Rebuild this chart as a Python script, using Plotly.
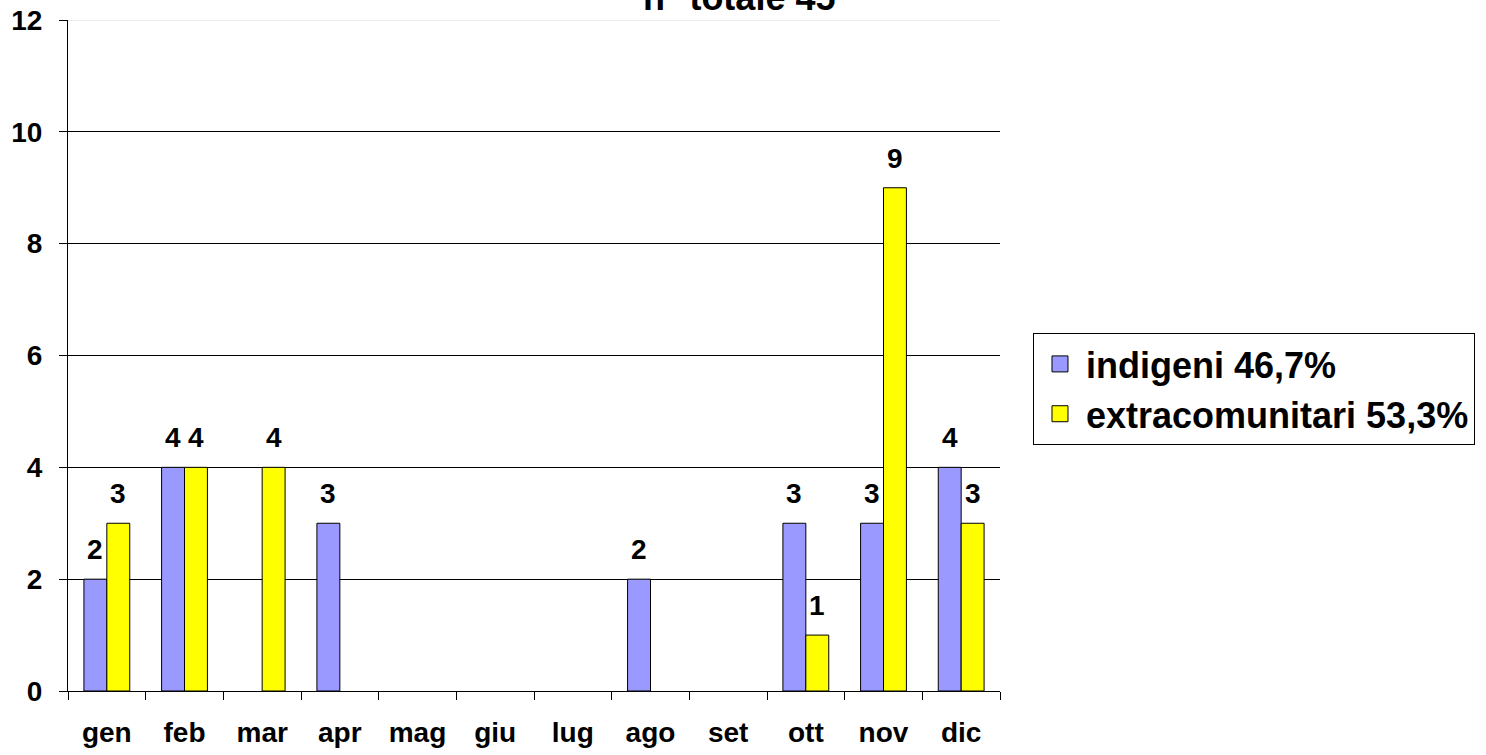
import plotly.graph_objects as go

months = ["gen", "feb", "mar", "apr", "mag", "giu", "lug", "ago", "set", "ott", "nov", "dic"]
indigeni = [2, 4, 0, 3, 0, 0, 0, 2, 0, 3, 3, 4]
extracomunitari = [3, 4, 4, 0, 0, 0, 0, 0, 0, 1, 9, 3]
y_ticks = [0, 2, 4, 6, 8, 10, 12]
title_text = "n° totale 45"
names = ["indigeni 46,7%", "extracomunitari 53,3%"]
colors = ["#9999FF", "#FFFF00"]

FONT = "Arial, Liberation Sans, sans-serif"
W, H = 1486, 755
ML, MR, MT, MB = 68, 486, 20, 64
BARGAP = 0.41

def nz(vals):
    return [v if v else None for v in vals]

fig = go.Figure()
for name, vals, col in zip(names, [indigeni, extracomunitari], colors):
    fig.add_trace(go.Bar(
        x=months, y=nz(vals), name=name, showlegend=False,
        marker=dict(color=col, line=dict(color="#000000", width=1)),
        cliponaxis=False, hoverinfo="x+y+name",
    ))
# legend entries (larger square symbols)
for name, col in zip(names, colors):
    fig.add_trace(go.Scatter(
        x=[None], y=[None], mode="markers", name="<b>" + name + "</b>",
        marker=dict(symbol="square", size=16, color=col,
                    line=dict(color="#000000", width=1)),
        showlegend=True,
    ))

# data labels above each bar (positioned from the data, offset to the bar centre)
cat_px = (W - ML - MR) / len(months)
bar_px = cat_px * (1 - BARGAP) / 2
for k, vals in enumerate([indigeni, extracomunitari]):
    dx = (k - 0.5) * bar_px
    for m, v in zip(months, vals):
        if v:
            fig.add_annotation(
                x=m, y=v, xref="x", yref="y", text="<b>%d</b>" % v,
                showarrow=False, xanchor="center", yanchor="bottom",
                xshift=dx, yshift=12,
                font=dict(family=FONT, size=28, color="#000000"),
            )

fig.update_layout(
    width=W, height=H,
    margin=dict(l=ML, r=MR, t=MT, b=MB, autoexpand=False),
    paper_bgcolor="white", plot_bgcolor="white",
    barmode="group", bargap=BARGAP, bargroupgap=0,
    font=dict(family=FONT, size=28, color="#000000"),
    showlegend=True,
    legend=dict(
        x=1.0354, y=0.5335, xanchor="left", yanchor="top",
        bordercolor="#000000", borderwidth=1, bgcolor="white",
        font=dict(family=FONT, size=36, color="#000000"),
        itemwidth=42, tracegroupgap=0,
    ),
)
fig.update_xaxes(
    type="category", tickson="boundaries", ticks="outside", ticklen=8,
    tickcolor="#000000", showline=True, linecolor="#000000", linewidth=1,
    tickfont=dict(family=FONT, size=28, color="#000000"),
    tickvals=months, ticktext=["<b>" + m + "</b>" for m in months],
    ticklabelstandoff=16, automargin=False,
    showgrid=False,
)
fig.update_yaxes(
    range=[0, 12], tickvals=y_ticks, ticktext=["<b>%d</b>" % v for v in y_ticks],
    ticks="outside", ticklen=8,
    tickcolor="#000000", showline=True, linecolor="#000000", linewidth=1,
    showgrid=True, gridcolor="#000000", gridwidth=1,
    tickfont=dict(family=FONT, size=28, color="#000000"),
    ticklabelstandoff=11, automargin=False,
    zeroline=False,
)
# light top border line of the plot area at the top tick value
fig.add_shape(
    type="line", xref="paper", yref="y", x0=0, x1=1, y0=y_ticks[-1], y1=y_ticks[-1],
    line=dict(color="#D8D8D8", width=1), layer="below",
)
fig.add_annotation(
    text="<b>" + title_text + "</b>", x=0.72, y=1.0, xref="paper", yref="paper",
    yanchor="bottom", xanchor="center", yshift=0, showarrow=False,
    font=dict(family=FONT, size=36, color="#000000"),
)

fig.write_html("out.html", config={"displayModeBar": False},
               post_script="document.body.style.margin='0';")
